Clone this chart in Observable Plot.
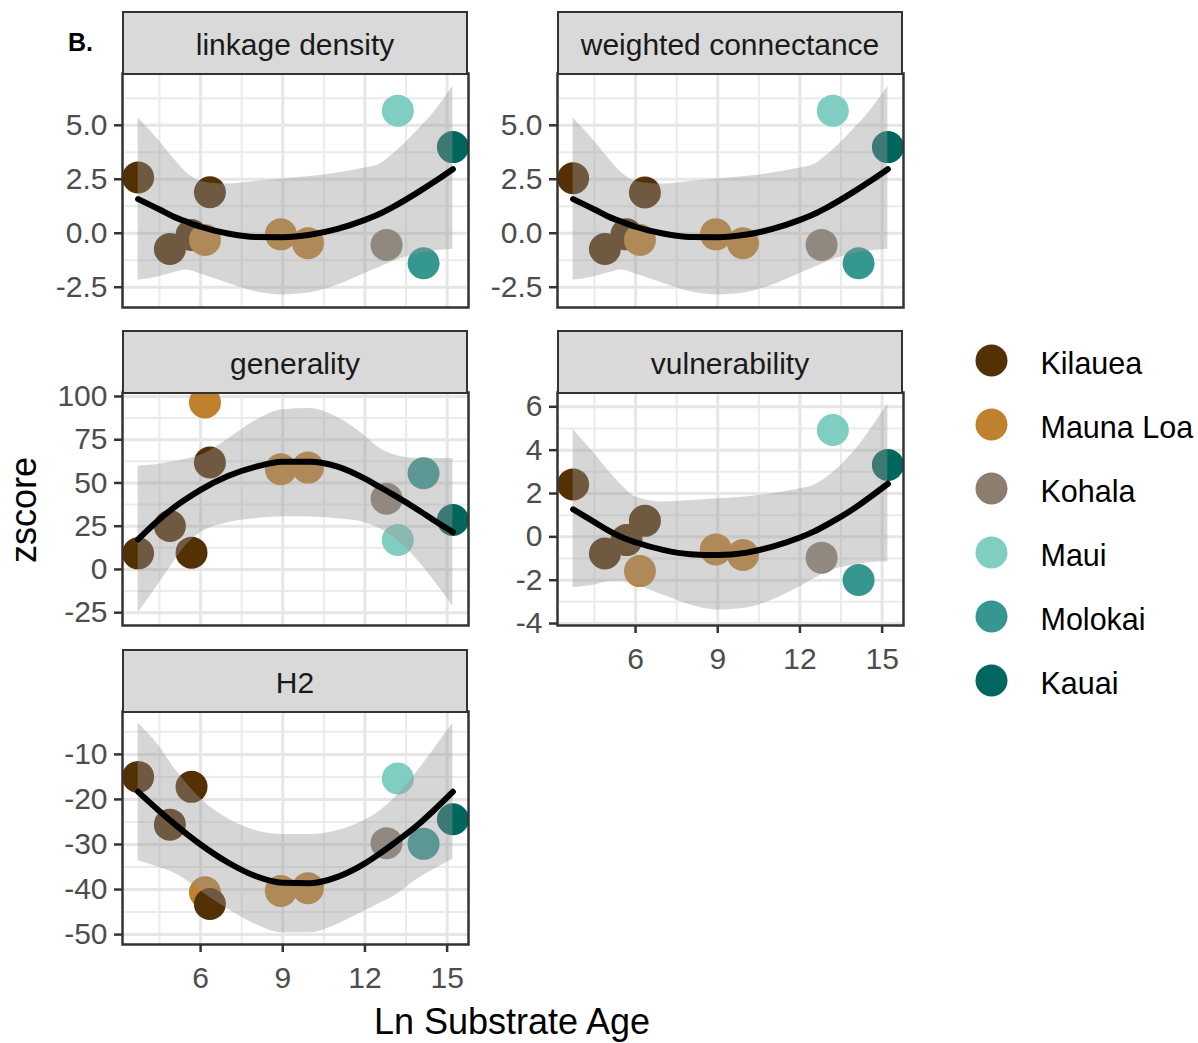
<!DOCTYPE html>
<html>
<head>
<meta charset="utf-8">
<script src="https://cdn.jsdelivr.net/npm/d3@7"></script>
<script src="https://cdn.jsdelivr.net/npm/@observablehq/plot@0.6"></script>
<style>
  html, body { margin: 0; padding: 0; background: #fff; }
  #chart { position: relative; width: 1198px; height: 1043px; background: #fff;
           font-family: "Liberation Sans", Arial, Helvetica, sans-serif; overflow: hidden; }
  .abs { position: absolute; white-space: nowrap; }
  .strip { position: absolute; box-sizing: border-box; background: #d9d9d9; border: 2.5px solid #333333; }
  .stripText { position: absolute; text-align: center; font-size: 30px; line-height: 30px; color: #1a1a1a; }
</style>
</head>
<body>
<div id="chart"></div>
<script>
// ---------- data ----------
const islands = ["Kilauea", "Mauna Loa", "Kohala", "Maui", "Molokai", "Kauai"];
const islandColors = ["#543005", "#BF812D", "#8C7E6E", "#80CDC1", "#35978F", "#01665E"];

// one entry per site, in drawing order
const siteIsland = ["Kilauea", "Kilauea", "Kilauea", "Mauna Loa", "Kilauea", "Mauna Loa", "Mauna Loa", "Kohala", "Maui", "Molokai", "Kauai"];
const lnSubstrateAge = [3.72, 4.88, 5.67, 6.16, 6.34, 8.93, 9.92, 12.79, 13.2, 14.14, 15.21];

const linkageDensity      = [2.58, -0.73, -0.08, -0.31, 1.90, -0.05, -0.46, -0.54, 5.68, -1.39, 3.99];
const weightedConnectance = [2.55, -0.73, -0.05, -0.31, 1.89, -0.05, -0.46, -0.54, 5.68, -1.39, 3.99];
const generality          = [9.3, 25.1, 9.7, 96.5, 61.8, 57.9, 58.9, 40.9, 17.0, 55.6, 28.6];
const vulnerability       = [2.42, -0.77, -0.15, -1.58, 0.74, -0.58, -0.84, -0.96, 4.93, -1.99, 3.32];
const h2                  = [-15.0, -25.6, -17.2, -40.6, -43.2, -40.3, -39.7, -29.7, -15.35, -29.85, -24.4];

// fitted smooth (quadratic) with its confidence band
const smoothX = [3.72, 4.5, 5, 5.5, 6, 7, 8, 9, 10, 11, 12, 12.5, 13, 14, 14.5, 15.21];

const linkageFit   = [1.58, 1.10, 0.78, 0.53, 0.30, -0.01, -0.17, -0.18, -0.07, 0.20, 0.62, 0.88, 1.20, 1.95, 2.36, 2.97];
const linkageUpper = [5.34, 4.26, 3.48, 2.79, 2.40, 2.28, 2.40, 2.51, 2.63, 2.79, 3.02, 3.17, 3.64, 4.88, 5.57, 6.81];
const linkageLower = [-2.17, -2.01, -1.83, -1.70, -1.89, -2.32, -2.71, -2.86, -2.76, -2.40, -1.86, -1.60, -1.32, -0.93, -0.82, -0.74];

const connectFit   = [1.58, 1.10, 0.78, 0.53, 0.30, -0.01, -0.17, -0.18, -0.07, 0.20, 0.62, 0.88, 1.20, 1.95, 2.36, 2.97];
const connectUpper = [5.34, 4.26, 3.48, 2.79, 2.40, 2.28, 2.40, 2.51, 2.63, 2.79, 3.02, 3.17, 3.64, 4.88, 5.57, 6.81];
const connectLower = [-2.17, -2.01, -1.83, -1.70, -1.89, -2.32, -2.71, -2.86, -2.76, -2.40, -1.86, -1.60, -1.32, -0.93, -0.82, -0.74];

const generalityFit   = [17.4, 29.0, 35.5, 41.0, 46.0, 54.0, 59.3, 62.2, 62.3, 59.5, 52.5, 48.0, 43.5, 33.8, 28.6, 21.6];
const generalityUpper = [59.8, 60.8, 62.2, 63.8, 66.0, 75.3, 85.9, 92.3, 93.0, 87.8, 77.2, 70.5, 66.6, 64.1, 64.1, 64.1];
const generalityLower = [-25.1, -7.7, 3.9, 14.5, 21.2, 27.0, 29.3, 30.5, 30.3, 29.3, 27.0, 24.0, 19.3, 3.9, -6.0, -21.2];

const vulnerabilityFit   = [1.27, 0.68, 0.30, -0.02, -0.25, -0.60, -0.80, -0.84, -0.74, -0.45, -0.03, 0.24, 0.57, 1.33, 1.78, 2.45];
const vulnerabilityUpper = [4.95, 3.83, 3.06, 2.37, 1.84, 1.61, 1.68, 1.76, 1.84, 1.99, 2.22, 2.37, 2.76, 3.98, 4.82, 6.13];
const vulnerabilityLower = [-2.34, -2.22, -2.07, -2.05, -2.22, -2.68, -3.14, -3.37, -3.29, -2.91, -2.30, -1.95, -1.61, -1.30, -1.20, -1.15];

const h2Fit   = [-18.3, -22.6, -25.2, -27.7, -30.0, -34.0, -37.0, -38.5, -38.6, -37.2, -34.2, -32.2, -30.0, -25.3, -22.5, -18.3];
const h2Upper = [-3.1, -8.3, -12.75, -16.5, -19.8, -24.3, -26.9, -27.8, -27.8, -26.9, -24.6, -22.8, -20.2, -13.1, -9.0, -3.1];
const h2Lower = [-33.6, -35.1, -36.2, -38.0, -40.3, -44.3, -47.7, -49.6, -49.6, -47.7, -44.7, -43.2, -41.7, -37.3, -35.6, -33.2];

// axis ticks
const xMajorTicks = [6, 9, 12, 15];
const xMinorTicks = [4.5, 7.5, 10.5, 13.5];
const linkageTicks = [-2.5, 0, 2.5, 5.0];
const linkageMinor = [-1.25, 1.25, 3.75, 6.25];
const generalityTicks = [-25, 0, 25, 50, 75, 100];
const generalityMinor = [-12.5, 12.5, 37.5, 62.5, 87.5];
const vulnerabilityTicks = [-4, -2, 0, 2, 4, 6];
const vulnerabilityMinor = [-3, -1, 1, 3, 5];
const h2Ticks = [-50, -40, -30, -20, -10];
const h2Minor = [-45, -35, -25, -15, -5];

// ---------- layout ----------
const chart = document.getElementById("chart");
const FONT = '"Liberation Sans", Arial, Helvetica, sans-serif';
const xDomain = [3.15, 15.78];
const PW = 346;
const TICK_FS = 30;

const panels = [
  {title: "linkage density", left: 122, top: 73, h: 234, yDomain: [-3.44, 7.4], values: linkageDensity,
   fit: linkageFit, upper: linkageUpper, lower: linkageLower, ticks: linkageTicks, minor: linkageMinor, fmt: d => d.toFixed(1), xAxis: false},
  {title: "weighted connectance", left: 557, top: 73, h: 234, yDomain: [-3.44, 7.4], values: weightedConnectance,
   fit: connectFit, upper: connectUpper, lower: connectLower, ticks: linkageTicks, minor: linkageMinor, fmt: d => d.toFixed(1), xAxis: false},
  {title: "generality", left: 122, top: 392, h: 233, yDomain: [-32.4, 102.3], values: generality,
   fit: generalityFit, upper: generalityUpper, lower: generalityLower, ticks: generalityTicks, minor: generalityMinor, fmt: d => String(d), xAxis: false},
  {title: "vulnerability", left: 557, top: 392, h: 233, yDomain: [-4.09, 6.66], values: vulnerability,
   fit: vulnerabilityFit, upper: vulnerabilityUpper, lower: vulnerabilityLower, ticks: vulnerabilityTicks, minor: vulnerabilityMinor, fmt: d => String(d), xAxis: true},
  {title: "H2", left: 122, top: 711, h: 233, yDomain: [-52.2, -0.48], values: h2,
   fit: h2Fit, upper: h2Upper, lower: h2Lower, ticks: h2Ticks, minor: h2Minor, fmt: d => String(d), xAxis: true}
];

function addText(txt, opts) {
  const d = document.createElement("div");
  d.className = "abs";
  d.textContent = txt;
  Object.assign(d.style, opts);
  chart.appendChild(d);
  return d;
}

const ML = 90, MR = 6, MT = 3;
for (const p of panels) {
  const MB = p.xAxis ? 72 : 4;
  const points = lnSubstrateAge.map((x, i) => ({x, y: p.values[i], island: siteIsland[i]}));
  const smooth = smoothX.map((x, j) => ({x, fit: p.fit[j], lo: p.lower[j], hi: p.upper[j]}));

  const marks = [
    Plot.ruleX(xMinorTicks, {stroke: "#ebebeb", strokeWidth: 2}),
    Plot.ruleY(p.minor.filter(v => v > p.yDomain[0] && v < p.yDomain[1]), {stroke: "#ebebeb", strokeWidth: 2}),
    Plot.ruleX(xMajorTicks, {stroke: "#e6e6e6", strokeWidth: 3}),
    Plot.ruleY(p.ticks, {stroke: "#e6e6e6", strokeWidth: 3}),
    Plot.dot(points, {x: "x", y: "y", fill: "island", r: 16, clip: true}),
    Plot.areaY(smooth, {x: "x", y1: "lo", y2: "hi", fill: "#999999", fillOpacity: 0.4, curve: "monotone-x"}),
    Plot.line(smooth, {x: "x", y: "fit", stroke: "#000000", strokeWidth: 6, curve: "monotone-x"}),
    Plot.frame({stroke: "#333333", strokeWidth: 2.5}),
    Plot.axisY({ticks: p.ticks, tickFormat: p.fmt, tickSize: 8, tickPadding: 7, fontSize: TICK_FS,
                stroke: "#333333", fill: "#4d4d4d", strokeWidth: 2.5, label: null})
  ];
  if (p.xAxis) {
    marks.push(Plot.axisX({ticks: xMajorTicks, tickFormat: d => String(d), tickSize: 8, tickPadding: 14, fontSize: TICK_FS,
                stroke: "#333333", fill: "#4d4d4d", strokeWidth: 2.5, label: null}));
  }

  const svg = Plot.plot({
    width: ML + PW + MR,
    height: MT + p.h + MB,
    marginLeft: ML, marginRight: MR, marginTop: MT, marginBottom: MB,
    x: {domain: xDomain, ...(p.xAxis ? {} : {axis: null})},
    y: {domain: p.yDomain},
    color: {domain: islands, range: islandColors},
    style: {fontFamily: FONT, fontSize: TICK_FS + "px", background: "transparent", overflow: "visible"},
    marks
  });
  svg.style.position = "absolute";
  svg.style.left = (p.left - ML) + "px";
  svg.style.top = (p.top - MT) + "px";
  chart.appendChild(svg);

  // facet strip
  const strip = document.createElement("div");
  strip.className = "strip";
  Object.assign(strip.style, {left: p.left + "px", top: (p.top - 62) + "px", width: PW + "px", height: "63.5px"});
  chart.appendChild(strip);
  const st = document.createElement("div");
  st.className = "stripText";
  st.textContent = p.title;
  Object.assign(st.style, {left: p.left + "px", width: PW + "px", top: (p.top - 18 - 25.4) + "px"});
  chart.appendChild(st);
}

// panel tag
addText("B.", {left: "68px", top: "30px", fontSize: "25px", lineHeight: "25px", fontWeight: "bold", color: "#000"});

// axis titles
addText("Ln Substrate Age", {left: "312px", width: "400px", textAlign: "center", top: "1004px",
  fontSize: "36px", lineHeight: "36px", color: "#000"});
addText("zscore", {left: (24 - 100) + "px", width: "200px", textAlign: "center", top: (510 - 18) + "px",
  fontSize: "36px", lineHeight: "36px", color: "#000", transform: "rotate(-90deg)", transformOrigin: "50% 50%"});

// legend
const legend = Plot.plot({
  width: 238, height: 390, margin: 0,
  x: {domain: [0, 1], range: [31, 80], axis: null},
  y: {type: "point", domain: islands, range: [32, 353.5], padding: 0, axis: null},
  color: {domain: islands, range: islandColors},
  style: {fontFamily: FONT, background: "transparent", overflow: "visible"},
  marks: [
    Plot.dot(islands, {x: () => 0, y: d => d, fill: d => d, r: 16}),
    Plot.text(islands, {x: () => 1, y: d => d, text: d => d, textAnchor: "start", fontSize: 30.5, fill: "#000000", dy: 3.5})
  ]
});
legend.style.position = "absolute";
legend.style.left = "960px";
legend.style.top = "327px";
chart.appendChild(legend);
</script>
</body>
</html>
